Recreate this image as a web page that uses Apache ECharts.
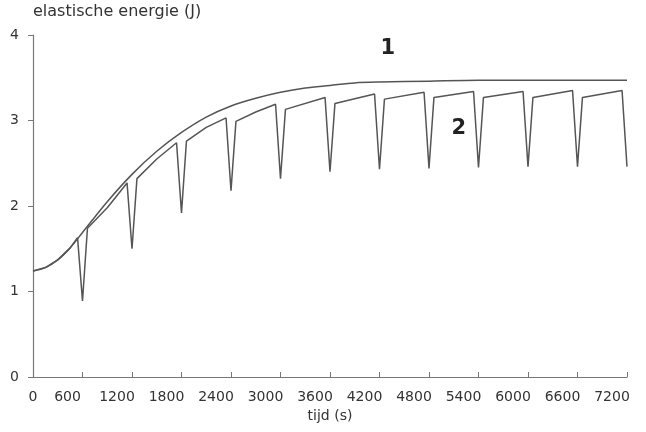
<!DOCTYPE html>
<html>
<head>
<meta charset="utf-8">
<script src="https://cdn.jsdelivr.net/npm/echarts@6/dist/echarts.min.js"></script>
<style>
html,body{margin:0;padding:0;background:#fff;}
#chart{width:646px;height:432px;}
</style>
</head>
<body>
<div id="chart"></div>
<script>
// curve 1: smooth envelope
const t1 = [0, 150, 300, 450, 600, 900, 1200, 1500, 1800, 2100, 2400, 2700, 3000, 3300, 3600, 3900, 4200, 4800, 5400, 6000, 6600, 7200]
const e1 = [1.24, 1.28, 1.37, 1.51, 1.69, 2.05, 2.37, 2.64, 2.86, 3.04, 3.17, 3.26, 3.33, 3.38, 3.41, 3.44, 3.45, 3.46, 3.47, 3.47, 3.47, 3.47]
// curve 2: sawtooth
const t2 = [0, 150, 300, 450, 540, 600, 660, 900, 1140, 1200, 1260, 1500, 1740, 1800, 1860, 2100, 2340, 2400, 2460, 2700, 2940, 3000, 3060, 3540, 3600, 3660, 4140, 4200, 4260, 4740, 4800, 4860, 5340, 5400, 5460, 5940, 6000, 6060, 6540, 6600, 6660, 7140, 7200]
const e2 = [1.24, 1.28, 1.37, 1.51, 1.63, 0.89, 1.74, 1.98, 2.27, 1.50, 2.32, 2.55, 2.74, 1.92, 2.76, 2.92, 3.03, 2.18, 2.99, 3.10, 3.19, 2.32, 3.13, 3.27, 2.40, 3.20, 3.31, 2.43, 3.25, 3.33, 2.44, 3.27, 3.34, 2.45, 3.27, 3.34, 2.46, 3.27, 3.35, 2.46, 3.27, 3.35, 2.46]
const xTicks = [0, 600, 1200, 1800, 2400, 3000, 3600, 4200, 4800, 5400, 6000, 6600, 7200]
const yTicks = [0, 1, 2, 3, 4]

const font = 'DejaVu Sans'
const ink = '#555'

let myChart = echarts.init(document.getElementById('chart'))
let option = {
    animation: false,
    textStyle: { fontFamily: font },
    grid: { left: 33, right: 19, top: 35, bottom: 55 },
    xAxis: {
        type: 'value',
        min: xTicks[0],
        max: xTicks[xTicks.length - 1],
        interval: 600,
        name: 'tijd (s)',
        nameLocation: 'middle',
        nameGap: 29,
        nameTextStyle: { fontFamily: font, fontSize: 14, color: '#333' },
        splitLine: { show: false },
        axisLine: { lineStyle: { color: '#777', width: 1.2 } },
        axisTick: { inside: true, length: 5, lineStyle: { color: '#777' } },
        axisLabel: {
            margin: 13,
            formatter: v => v === 0 ? '{z|0}' : '{n|' + v + '}',
            rich: {
                z: { fontFamily: font, fontSize: 14, color: '#333' },
                n: { fontFamily: font, fontSize: 14, color: '#333', padding: [0, 30, 0, 0] }
            }
        }
    },
    yAxis: {
        type: 'value',
        min: yTicks[0],
        max: yTicks[yTicks.length - 1],
        interval: 1,
        name: 'elastische energie (J)',
        nameLocation: 'end',
        nameGap: 15,
        nameTextStyle: { fontFamily: font, fontSize: 16, color: '#333', align: 'left' },
        splitLine: { show: false },
        axisLine: { show: true, lineStyle: { color: '#777', width: 1.2 } },
        axisTick: { show: true, length: 5, lineStyle: { color: '#777' } },
        axisLabel: { margin: 14, fontFamily: font, fontSize: 14, color: '#333' }
    },
    series: [
        {
            name: '1',
            type: 'line',
            smooth: 0.3,
            symbol: 'none',
            data: t1.map((t, i) => [t, e1[i]]),
            lineStyle: { color: ink, width: 1.5 },
            markPoint: {
                symbol: 'circle',
                symbolSize: 1,
                itemStyle: { color: 'rgba(0,0,0,0)' },
                label: { show: true, position: 'inside', formatter: '1', fontFamily: font, fontSize: 21, fontWeight: 'bold', color: '#222' },
                data: [{ coord: [4300, 3.84] }]
            }
        },
        {
            name: '2',
            type: 'line',
            symbol: 'none',
            data: t2.map((t, i) => [t, e2[i]]),
            lineStyle: { color: ink, width: 1.5 },
            markPoint: {
                symbol: 'circle',
                symbolSize: 1,
                itemStyle: { color: 'rgba(0,0,0,0)' },
                label: { show: true, position: 'inside', formatter: '2', fontFamily: font, fontSize: 21, fontWeight: 'bold', color: '#222' },
                data: [{ coord: [5160, 2.91] }]
            }
        }
    ]
}
myChart.setOption(option)
</script>
</body>
</html>
